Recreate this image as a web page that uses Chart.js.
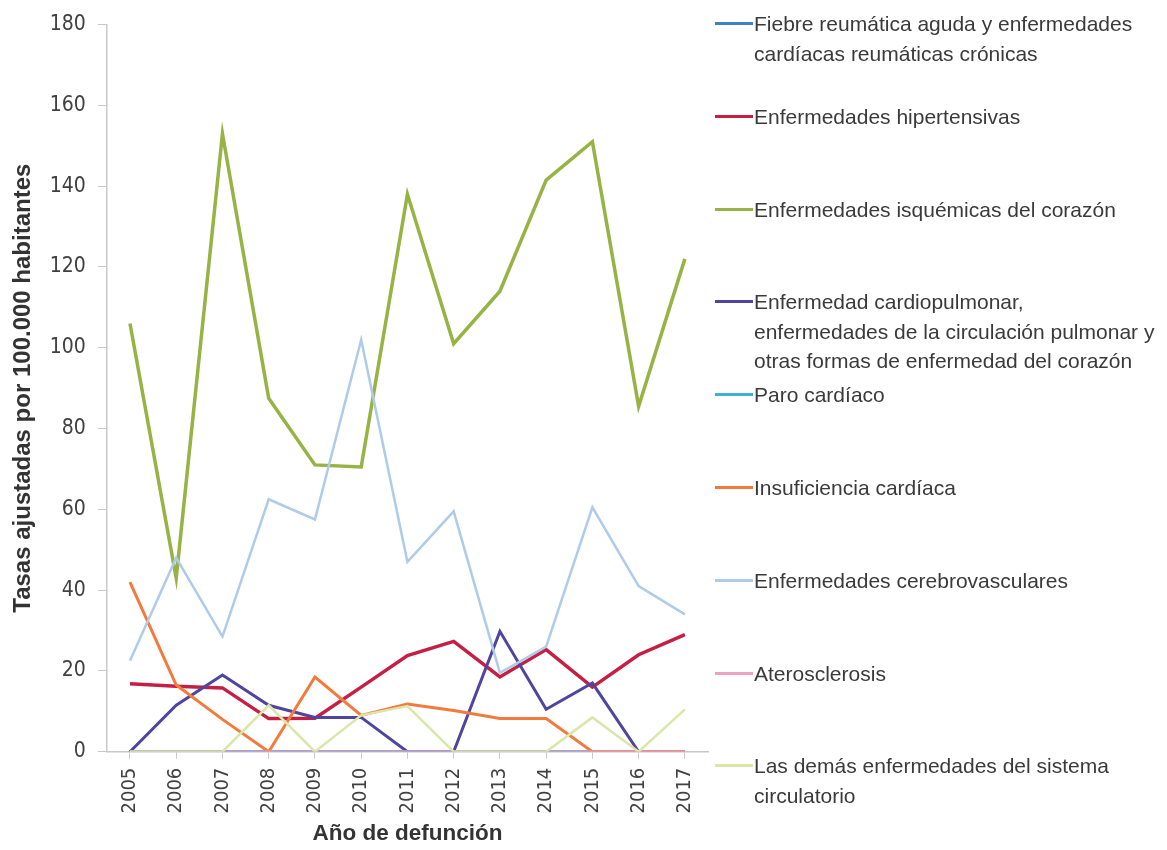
<!DOCTYPE html>
<html>
<head>
<meta charset="utf-8">
<script src="https://cdn.jsdelivr.net/npm/chart.js@4.4.0/dist/chart.umd.min.js"></script>
<style>
    html, body { margin: 0; padding: 0; background: #FFFFFF; }
    #wrap { position: relative; width: 1167px; height: 850px; }
    #chartTasas { position: absolute; left: 0; top: 0; }
    #legendBox { position: absolute; left: 0; top: 0; width: 1167px; height: 850px; pointer-events: none; }
    .legendItem { position: absolute; left: 715px; font-family: 'Liberation Sans', Arial, sans-serif; font-size: 21px; line-height: 29.5px; color: #3a3a3a; }
    .legendLine { position: absolute; left: 0; top: 13px; width: 38px; height: 3px; }
    .legendText { margin-left: 39px; white-space: nowrap; }
</style>
</head>
<body>
<div id="wrap">
    <canvas id="chartTasas" width="1167" height="850"></canvas>
    <div id="legendBox"></div>
</div>
<script>
/* ----------------------------------------------------------------------------
                                     DATA
---------------------------------------------------------------------------- */

// Categories -----------------------------------------------------------------
var years = ['2005', '2006', '2007', '2008', '2009', '2010', '2011', '2012', '2013', '2014', '2015', '2016', '2017'];

// Series ---------------------------------------------------------------------
var fiebreReumatica  = [0, 0, 0, 0, 0, 0, 0, 0, 0, 0, 0, 0, 0];
var hipertensivas    = [16.8, 16.2, 15.8, 8.2, 8.3, 16, 23.8, 27.3, 18.5, 25.3, 16, 24, 29];
var isquemicas       = [106, 43, 153, 87.5, 71, 70.5, 138, 101, 114, 141.5, 151, 85.5, 122];
var cardiopulmonar   = [0, 11.5, 19, 11.5, 8.5, 8.5, 0, 0, 29.8, 10.5, 17, 0, 0];
var paroCardiaco     = [0, 0, 0, 0, 0, 0, 0, 0, 0, 0, 0, 0, 0];
var insuficiencia    = [42, 16.5, 8, 0, 18.5, 9, 11.8, 10.2, 8.2, 8.2, 0, 0, 0];
var cerebrovasculares = [22.5, 48, 28.5, 62.5, 57.5, 102, 47, 59.5, 19.5, 26, 60.5, 41, 34];
var aterosclerosis   = [0, 0, 0, 0, 0, 0, 0, 0, 0, 0, 0, 0, 0];
var demasCirculatorio = [0, 0, 0, 11.5, 0, 9, 11.3, 0, 0, 0, 8.5, 0, 10.5];

// Labels ---------------------------------------------------------------------
var seriesNames = [
    ['Fiebre reumática aguda y enfermedades', 'cardíacas reumáticas crónicas'],
    ['Enfermedades hipertensivas'],
    ['Enfermedades isquémicas del corazón'],
    ['Enfermedad cardiopulmonar,', 'enfermedades de la circulación pulmonar y', 'otras formas de enfermedad del corazón'],
    ['Paro cardíaco'],
    ['Insuficiencia cardíaca'],
    ['Enfermedades cerebrovasculares'],
    ['Aterosclerosis'],
    ['Las demás enfermedades del sistema', 'circulatorio']
];
var yTicks = [0, 20, 40, 60, 80, 100, 120, 140, 160, 180];
var yTitle = 'Tasas ajustadas por 100.000 habitantes';
var xTitle = 'Año de defunción';

// Styles ---------------------------------------------------------------------
var colors = Array('#3F80C6', '#C51F44', '#97B344', '#4F459F', '#3FB1D9', '#F27B3C', '#AECBEA', '#F2A2C0', '#D9E7A8');
var widths = Array(3, 3.5, 3.5, 3, 3, 3, 2.5, 2.5, 2.5);
var narrowFont = "'DejaVu Sans Condensed', 'Liberation Sans', sans-serif";
var titleFont = "'Liberation Sans', Arial, sans-serif";
var axisGray = '#C8C8C8';

/* ----------------------------------------------------------------------------
                                    MAIN
---------------------------------------------------------------------------- */

var allSeries = [fiebreReumatica, hipertensivas, isquemicas, cardiopulmonar, paroCardiaco,
                 insuficiencia, cerebrovasculares, aterosclerosis, demasCirculatorio];

var datasets = [];
for (var i = 0; i < allSeries.length; i++) {
    datasets.push({
        label: seriesNames[i].join(' '),
        data: allSeries[i],
        borderColor: colors[i],
        backgroundColor: colors[i],
        borderWidth: widths[i],
        pointRadius: 0,
        fill: false,
        tension: 0,
        order: -i   // later series on top, like the original
    });
}

const ctx_tasas = document.getElementById('chartTasas').getContext('2d');

const chartTasas = new Chart(ctx_tasas, {
    type: 'line',
    data: {
        labels: years,
        datasets: datasets
    },
    options: {
        responsive: false,
        animation: false,
        layout: {
            padding: { top: 5, right: 459, bottom: 5, left: 0 }
        },
        plugins: {
            legend: { display: false },
            tooltip: { enabled: false }
        },
        scales: {
            x: {
                offset: true,
                grid: {
                    display: true,
                    drawOnChartArea: false,
                    tickLength: 7,
                    color: axisGray
                },
                border: { color: axisGray, width: 1.5 },
                ticks: {
                    color: '#404040',
                    minRotation: 90,
                    maxRotation: 90,
                    padding: 9,
                    font: { family: narrowFont, size: 20 }
                },
                title: {
                    display: true,
                    text: xTitle,
                    color: '#333333',
                    padding: { top: 0, bottom: 0 },
                    font: { family: titleFont, size: 22.5, weight: 'bold', lineHeight: 1 }
                }
            },
            y: {
                min: 0,
                max: 180,
                afterBuildTicks: function(axis) {
                    axis.ticks = yTicks.map(function(v) { return { value: v }; });
                },
                grid: {
                    display: true,
                    drawOnChartArea: false,
                    tickLength: 9,
                    color: axisGray
                },
                border: { color: axisGray, width: 1.5 },
                ticks: {
                    color: '#404040',
                    padding: 12,
                    font: { family: narrowFont, size: 21 }
                },
                title: {
                    display: true,
                    text: yTitle,
                    color: '#333333',
                    padding: { top: 9, bottom: 0 },
                    font: { family: titleFont, size: 24, weight: 'bold' }
                }
            }
        }
    }
});

// Legend (HTML) --------------------------------------------------------------
var legendBox = document.getElementById('legendBox');
var legendTop = 9;
var legendStep = 92.8;

for (var j = 0; j < chartTasas.data.datasets.length; j++) {
    var ds = chartTasas.data.datasets[j];
    var item = document.createElement('div');
    item.className = 'legendItem';
    item.style.top = (legendTop + j * legendStep) + 'px';

    var line = document.createElement('div');
    line.className = 'legendLine';
    line.style.backgroundColor = ds.borderColor;
    item.appendChild(line);

    var text = document.createElement('div');
    text.className = 'legendText';
    text.innerHTML = seriesNames[j].join('<br>');
    item.appendChild(text);

    legendBox.appendChild(item);
}
</script>
</body>
</html>
